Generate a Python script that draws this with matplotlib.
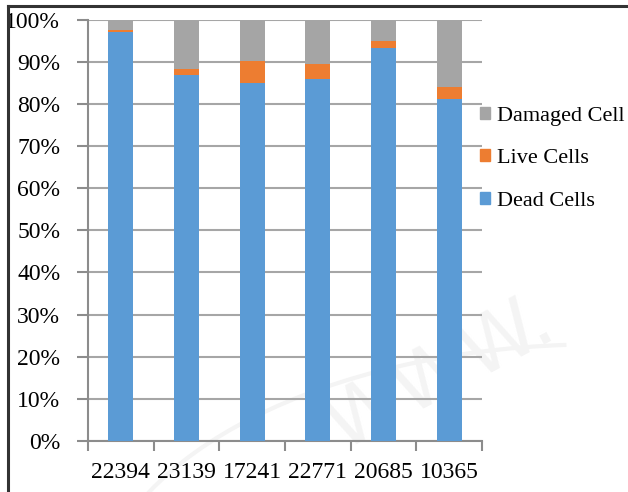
import matplotlib
matplotlib.use("Agg")
import matplotlib.pyplot as plt
from matplotlib.patches import Patch, Arc
from matplotlib.lines import Line2D
from matplotlib.ticker import FuncFormatter

plt.rcParams['font.family'] = ['Liberation Serif', 'DejaVu Serif']

samples = ["22394", "23139", "17241", "22771", "20685", "10365"]
dead_cells = [97.0, 86.8, 85.0, 86.0, 93.2, 81.1]
live_cells = [0.5, 1.5, 5.2, 3.4, 1.6, 3.0]
damaged_cells = [2.5, 11.7, 9.8, 10.6, 5.2, 15.9]

c_dead = "#5B9BD5"
c_live = "#ED7D31"
c_damaged = "#A5A5A5"
axis_grey = "#8C8C8C"

fig = plt.figure(figsize=(6.28, 4.92), dpi=100)
fig.patch.set_facecolor("white")

# chart border (top and left edges)
fig.add_artist(Line2D([8/628, 8/628], [0, 1 - 6/492], transform=fig.transFigure,
                      color="#333333", lw=2.2))
fig.add_artist(Line2D([8/628, 1], [1 - 6/492, 1 - 6/492], transform=fig.transFigure,
                      color="#333333", lw=2.2))

# faint background mark
fig.text(0.70, 0.24, "WWW.", fontsize=56, color="#f4f4f4", rotation=28,
         ha="center", va="center", family="DejaVu Sans", zorder=-1)
fig.add_artist(Arc((0.95, -0.25), 1.6, 1.1, theta1=95, theta2=175,
                   transform=fig.transFigure, color="#f4f4f4", lw=3, zorder=-1))

ax = fig.add_axes([88/628, 1 - 441/492, (482 - 88)/628, (441 - 19.5)/492])
ax.set_facecolor("none")

x = list(range(len(samples)))
w = 0.38
bottom_live = dead_cells
bottom_dmg = [d + l for d, l in zip(dead_cells, live_cells)]
ax.bar(x, dead_cells, width=w, color=c_dead, zorder=3)
ax.bar(x, live_cells, width=w, bottom=bottom_live, color=c_live, zorder=3)
ax.bar(x, damaged_cells, width=w, bottom=bottom_dmg, color=c_damaged, zorder=3)

ax.set_xlim(-0.5, len(samples) - 0.5)
ax.set_ylim(0, 100)
ax.set_yticks(range(0, 101, 10))
ax.yaxis.set_major_formatter(FuncFormatter(lambda v, p: f"{int(v)}%"))
ax.grid(axis="y", color="#A6A6A6", lw=1.5, zorder=0)

ax.set_xticks(x)
ax.set_xticklabels(samples)
ax.set_xticks([i - 0.5 for i in range(len(samples) + 1)], minor=True)
ax.tick_params(axis="x", which="major", length=0, pad=15, labelsize=17)
ax.tick_params(axis="x", which="minor", length=7, width=1.5, color=axis_grey, direction="out")
ax.tick_params(axis="y", length=8, width=1.5, color=axis_grey, pad=12, labelsize=17)

for s in ["top", "right"]:
    ax.spines[s].set_visible(False)
for s in ["left", "bottom"]:
    ax.spines[s].set_color(axis_grey)
    ax.spines[s].set_linewidth(1.5)

handles = [Patch(color=c_damaged), Patch(color=c_live), Patch(color=c_dead)]
labels = ["Damaged Cell", "Live Cells", "Dead Cells"]
fig.legend(handles, labels, loc="upper left", bbox_to_anchor=(480/628, 1 - 107/492),
           frameon=False, fontsize=16, handlelength=0.45, handleheight=0.45,
           handletextpad=0.3, labelspacing=1.05, borderaxespad=0, borderpad=0)

fig.savefig("out.png", dpi=100)
